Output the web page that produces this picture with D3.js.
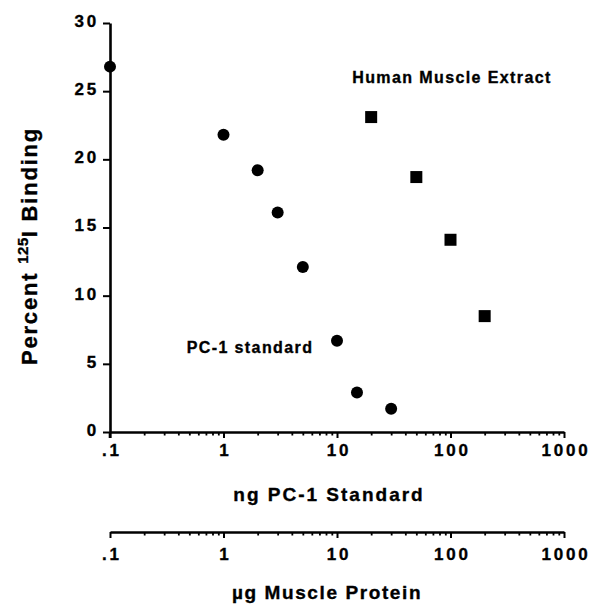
<!DOCTYPE html>
<html><head><meta charset="utf-8">
<script src="https://cdn.jsdelivr.net/npm/d3@7"></script>
<style>
body{margin:0;background:#fff;}
text{font-family:"Liberation Sans",Arial,Helvetica,sans-serif;font-weight:bold;fill:#000;stroke:#000;stroke-width:0.35px;}
</style></head>
<body><svg id="c" width="594" height="605"></svg>
<script>
// Data
const pcDose = [0.1, 1, 2, 3, 5, 10, 15, 30];
const pcBinding = [26.8, 21.8, 19.2, 16.1, 12.1, 6.7, 2.9, 1.7];
const muscleDose = [20, 50, 100, 200];
const muscleBinding = [23.1, 18.7, 14.1, 8.5];
const xTicks = [0.1, 1, 10, 100, 1000];
const xTickLabels = [".1", "1", "10", "100", "1000"];
const yTicks = [0, 5, 10, 15, 20, 25, 30];

const svg = d3.select("#c");
const x = d3.scaleLog().domain([0.1, 1000]).range([110, 564]);
const y = d3.scaleLinear().domain([0, 30]).range([432, 23]);

const minorTicks = [];
for (let e = -1; e < 3; e++) for (let m = 2; m <= 9; m++) minorTicks.push(m * Math.pow(10, e));

function styleAxis(g) {
  g.selectAll("path.domain").attr("stroke", "#000").attr("stroke-width", 2.6);
  g.selectAll(".tick line").attr("stroke", "#000").attr("stroke-width", 2);
  g.selectAll(".tick text").style("font-size", "17px").style("letter-spacing", "2.8px")
    .style("font-family", "Liberation Sans, Arial, sans-serif").style("font-weight", "bold")
    .style("stroke", "#000").style("stroke-width", "0.35px");
}

function drawXAxis(yPos, pad) {
  const gMaj = svg.append("g").attr("transform", `translate(0,${yPos})`)
    .call(d3.axisBottom(x).tickValues(xTicks).tickSize(6).tickSizeOuter(0)
      .tickPadding(pad).tickFormat((d, i) => xTickLabels[i]));
  styleAxis(gMaj);
  gMaj.selectAll(".tick text").attr("dx", "1.4px");
  const gMin = svg.append("g").attr("transform", `translate(0,${yPos})`)
    .call(d3.axisBottom(x).tickValues(minorTicks).tickSize(3.5).tickFormat(""));
  gMin.select("path.domain").remove();
  gMin.selectAll(".tick line").attr("stroke", "#000").attr("stroke-width", 1.8);
}

// Y axis
const gy = svg.append("g").attr("transform", `translate(${x(0.1)},0)`)
  .call(d3.axisLeft(y).tickValues(yTicks).tickSize(7).tickSizeOuter(0).tickPadding(4));
styleAxis(gy);
gy.selectAll(".tick text").attr("dy", "0.2em");
svg.append("line").attr("x1", x(0.1)).attr("x2", x(0.1))
  .attr("y1", y(0)).attr("y2", y(0) + 6).attr("stroke", "#000").attr("stroke-width", 2.6);

drawXAxis(y(0), 6);
drawXAxis(532, 10);

// Axis titles
svg.append("text").attr("x", 329).attr("y", 501).attr("text-anchor", "middle")
  .style("font-size", "19px").style("letter-spacing", "2px").text("ng PC-1 Standard");
svg.append("text").attr("x", 327).attr("y", 599).attr("text-anchor", "middle")
  .style("font-size", "19px").style("letter-spacing", "1.6px").text("\u00b5g Muscle Protein");

const yt = svg.append("text").attr("transform", "translate(37,365) rotate(-90)")
  .attr("text-anchor", "start").style("font-size", "22px").style("letter-spacing", "1.8px");
yt.append("tspan").text("Percent   ");
yt.append("tspan").text("125").style("font-size", "15px").style("letter-spacing", "0.5px").attr("dy", "-9");
yt.append("tspan").text("I Binding").attr("dy", "9");

// Points
svg.append("g").selectAll("circle").data(pcDose).join("circle")
  .attr("cx", d => x(d)).attr("cy", (d, i) => y(pcBinding[i])).attr("r", 6).attr("fill", "#000");
const sq = 12;
svg.append("g").selectAll("rect").data(muscleDose).join("rect")
  .attr("x", d => x(d) - sq / 2).attr("y", (d, i) => y(muscleBinding[i]) - sq / 2)
  .attr("width", sq).attr("height", sq).attr("fill", "#000");

// Annotations
svg.append("text").attr("x", 452).attr("y", 83).attr("text-anchor", "middle")
  .style("font-size", "16px").style("letter-spacing", "1.4px").text("Human Muscle Extract");
svg.append("text").attr("x", 250).attr("y", 353).attr("text-anchor", "middle")
  .style("font-size", "16px").style("letter-spacing", "1.4px").text("PC-1 standard");
</script></body></html>
